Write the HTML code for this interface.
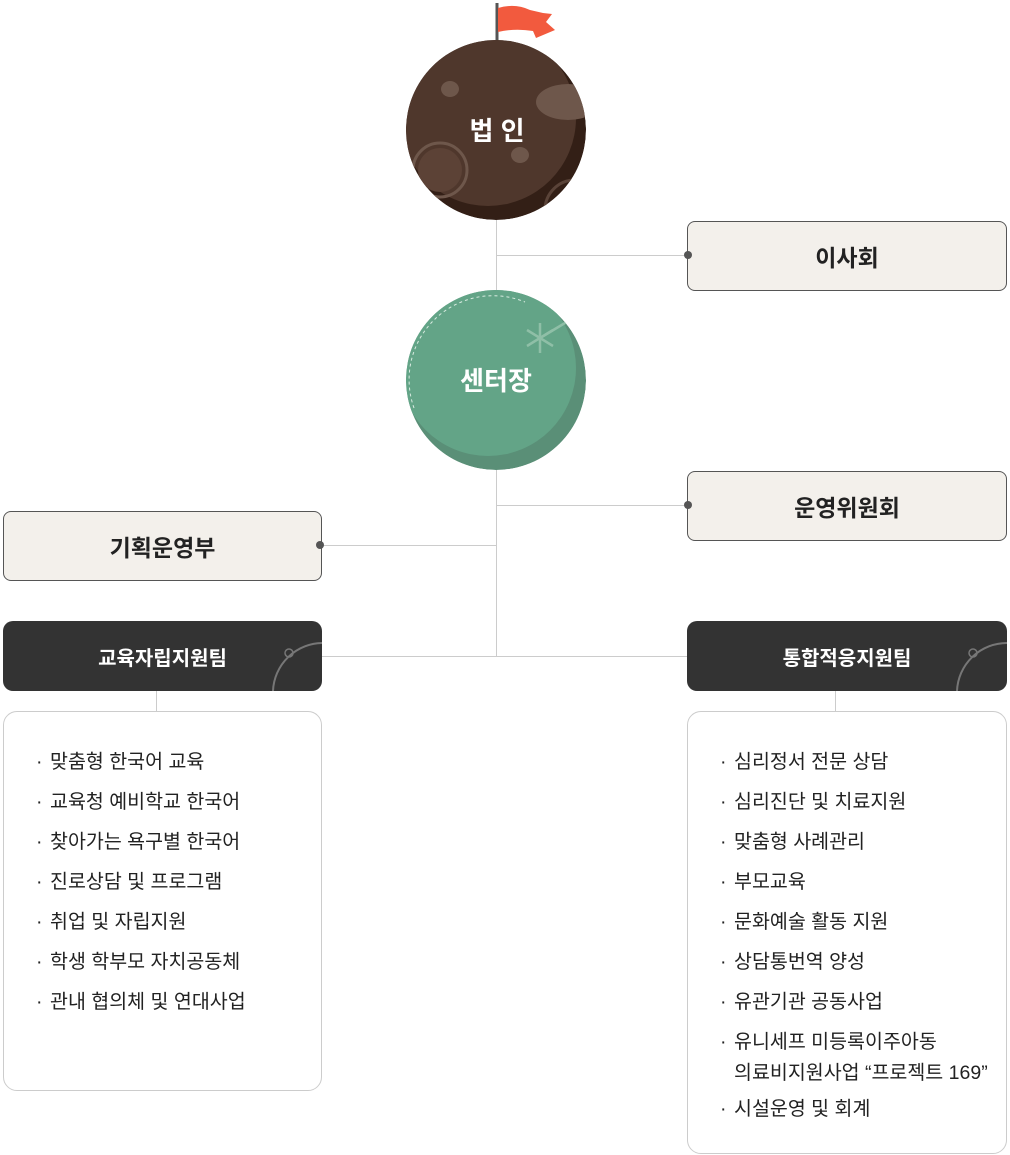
<!DOCTYPE html>
<html><head><meta charset="utf-8"><style>
body{margin:0;width:1010px;height:1155px;background:#fff;position:relative;overflow:hidden;font-family:"Liberation Sans","Noto Sans CJK KR",sans-serif}
.a{position:absolute}
.box{position:absolute;box-sizing:border-box;background:#f3f0eb;border:1px solid #555;border-radius:8px;display:flex;align-items:center;justify-content:center;font-size:23px;font-weight:bold;color:#222}
.dark{position:absolute;box-sizing:border-box;background:#333;border-radius:10px;display:flex;align-items:center;justify-content:center;font-size:20px;font-weight:bold;color:#fff;overflow:hidden}
.list{position:absolute;box-sizing:border-box;border:1px solid #ccc;border-radius:14px;background:#fff;font-size:19.5px;color:#222}
.list div{height:40px;line-height:40px;padding-left:30px;position:relative}
.list div:before{content:"·";position:absolute;left:16px}
.list .nb:before{content:""}
.dot{position:absolute;width:8px;height:8px;border-radius:50%;background:#555}
.h{position:absolute;height:1px;background:#ccc}.v{position:absolute;width:1px;background:#ccc}
</style></head><body>
<div class="v" style="left:496px;top:220px;height:437px"></div>
<div class="h" style="left:497px;top:255px;width:191px"></div>
<div class="h" style="left:497px;top:505px;width:191px"></div>
<div class="h" style="left:321px;top:545px;width:176px"></div>
<div class="h" style="left:321px;top:656px;width:366px"></div>
<div class="v" style="left:156px;top:690px;height:21px"></div>
<div class="v" style="left:835px;top:690px;height:21px"></div>

<svg class="a" style="left:400px;top:0" width="200" height="230">
<defs><clipPath id="c1"><circle cx="96" cy="130" r="90"/></clipPath></defs>
<line x1="97" y1="3" x2="97" y2="55" stroke="#555" stroke-width="3"/>
<rect x="93" y="54" width="8" height="2" fill="#e6b400"/>
<path d="M98 8 Q115 3 130 10 L143 13 L152 14 L146 22 L155 30 L136 38 L133 31 Q115 28 98 32Z" fill="#f25a3e"/>
<g clip-path="url(#c1)">
<circle cx="96" cy="130" r="90" fill="#331f16"/>
<circle cx="88" cy="118" r="88" fill="#4f372c"/>
<ellipse cx="168" cy="102" rx="32" ry="18" fill="#6e574b"/>
<ellipse cx="50" cy="89" rx="9" ry="8" fill="#6e574b"/>
<ellipse cx="120" cy="155" rx="9" ry="8" fill="#6e574b"/>
<circle cx="40" cy="170" r="27" fill="none" stroke="#6e574b" stroke-width="3"/>
<circle cx="40" cy="170" r="22" fill="#5c4236"/>
<circle cx="175" cy="210" r="30" fill="none" stroke="#5a4338" stroke-width="3"/>
</g>
<text x="97" y="140" text-anchor="middle" font-size="26" font-weight="bold" fill="#fff" font-family="Liberation Sans,Noto Sans CJK KR,sans-serif">법 인</text>
</svg>

<svg class="a" style="left:400px;top:280px" width="200" height="200">
<defs><clipPath id="g"><circle cx="96" cy="100" r="90"/></clipPath></defs>
<g clip-path="url(#g)">
<circle cx="96" cy="100" r="90" fill="#5a8f77"/>
<circle cx="88" cy="88" r="88" fill="#63a487"/>
<path d="M14 128 A84 84 0 0 1 125 22" fill="none" stroke="#d8ebe0" stroke-width="1" stroke-dasharray="3 3"/>
<g stroke="#8fbfa7" stroke-width="2.5"><line x1="140" y1="43" x2="140" y2="73"/><line x1="127" y1="50" x2="153" y2="66"/><line x1="127" y1="66" x2="153" y2="50"/><line x1="140" y1="58" x2="170" y2="40"/></g>
</g>
<text x="96" y="110" text-anchor="middle" font-size="26" font-weight="bold" fill="#fff" font-family="Liberation Sans,Noto Sans CJK KR,sans-serif">센터장</text>
</svg>

<div class="box" style="left:687px;top:221px;width:320px;height:70px">이사회</div><div class="dot" style="left:684px;top:251px"></div>
<div class="box" style="left:687px;top:471px;width:320px;height:70px">운영위원회</div><div class="dot" style="left:684px;top:501px"></div>
<div class="box" style="left:3px;top:511px;width:319px;height:70px">기획운영부</div><div class="dot" style="left:316px;top:541px"></div>

<div class="dark" style="left:3px;top:621px;width:319px;height:70px">교육자립지원팀<svg class="a" style="left:260px;top:10px" width="60" height="60"><path d="M10 60 A50 50 0 0 1 60 12" fill="none" stroke="#777" stroke-width="2"/><circle cx="26" cy="22" r="4" fill="none" stroke="#777" stroke-width="1.5"/></svg></div>
<div class="dark" style="left:687px;top:621px;width:320px;height:70px">통합적응지원팀<svg class="a" style="left:260px;top:10px" width="60" height="60"><path d="M10 60 A50 50 0 0 1 60 12" fill="none" stroke="#777" stroke-width="2"/><circle cx="26" cy="22" r="4" fill="none" stroke="#777" stroke-width="1.5"/></svg></div>

<div class="list" style="left:3px;top:711px;width:319px;height:380px;padding-top:30px;padding-left:16px">
<div>맞춤형 한국어 교육</div><div>교육청 예비학교 한국어</div><div>찾아가는 욕구별 한국어</div><div>진로상담 및 프로그램</div><div>취업 및 자립지원</div><div>학생 학부모 자치공동체</div><div>관내 협의체 및 연대사업</div>
</div>
<div class="list" style="left:687px;top:711px;width:320px;height:443px;padding-top:30px;padding-left:16px">
<div>심리정서 전문 상담</div><div>심리진단 및 치료지원</div><div>맞춤형 사례관리</div><div>부모교육</div><div>문화예술 활동 지원</div><div>상담통번역 양성</div><div>유관기관 공동사업</div>
<div style="height:30px;line-height:30px;margin-top:5px">유니세프 미등록이주아동</div><div style="height:32px;line-height:32px" class="nb">의료비지원사업 “프로젝트 169”</div>
<div>시설운영 및 회계</div>
</div>
</body></html>
